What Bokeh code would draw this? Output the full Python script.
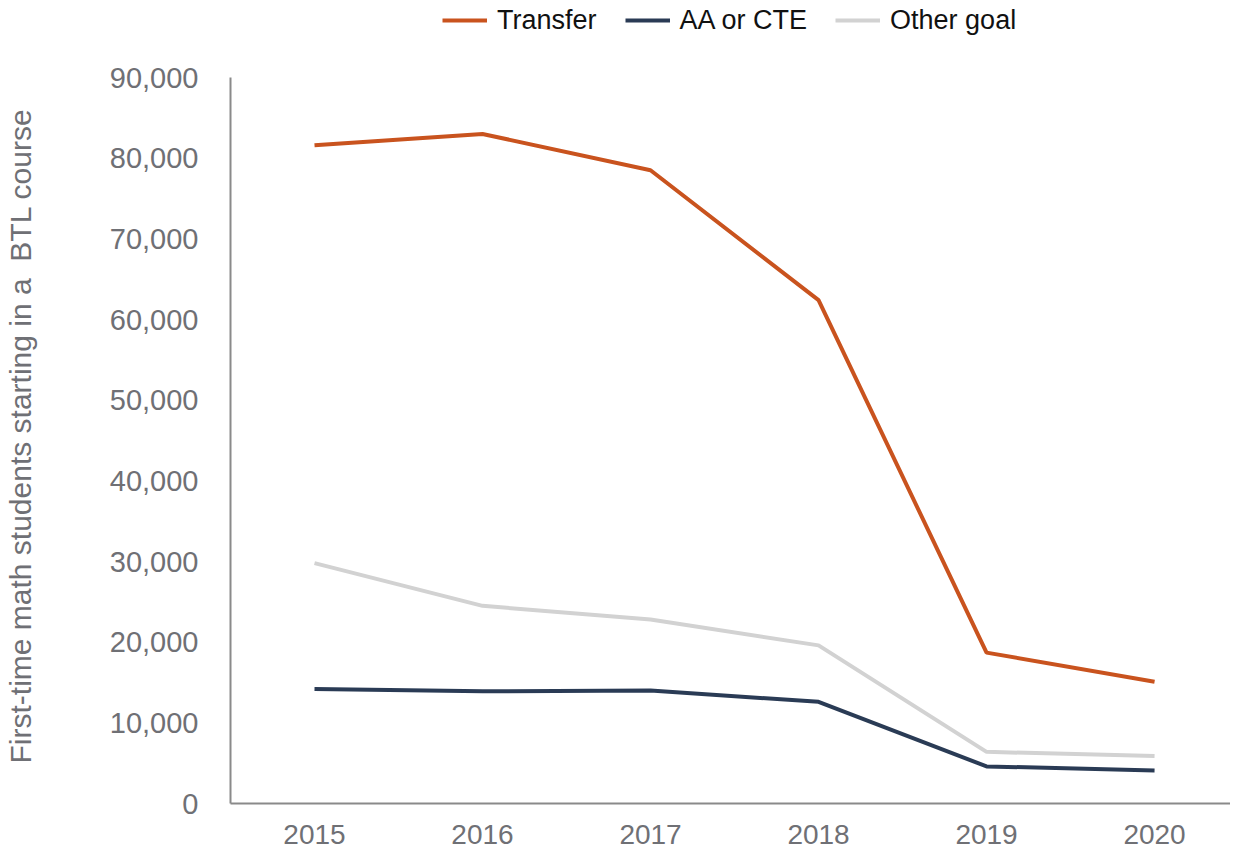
from bokeh.plotting import figure
from bokeh.models import Legend, LegendItem, Range1d, FixedTicker, NumeralTickFormatter, Title
from bokeh.embed import file_html
from bokeh.resources import INLINE

years = [2015, 2016, 2017, 2018, 2019, 2020]
transfer = [81600, 83000, 78500, 62400, 18700, 15100]
aa_cte = [14200, 13900, 14000, 12600, 4600, 4100]
other_goal = [29800, 24500, 22800, 19600, 6400, 5900]
y_ticks = [0, 10000, 20000, 30000, 40000, 50000, 60000, 70000, 80000, 90000]
y_max = 90000
y_title = "First-time math students starting in a \u00a0BTL course"

FONT = "Liberation Sans"
GRAY_TXT = "#6f7075"
AXIS_COL = "#8a8a8a"

H = 849
TOP = 4
BOTTOM = 46
frame_h = H - TOP - BOTTOM          # frame height in px
axis_px = 726                        # px between 0 and 90,000
y_end = y_max * frame_h / axis_px    # extra head-room above the axis for the legend

p = figure(width=1230, height=H, output_backend="svg", toolbar_location=None,
           x_range=Range1d(2014.5, 2020.452), y_range=Range1d(0, y_end),
           min_border_left=230, min_border_top=TOP, min_border_bottom=BOTTOM, min_border_right=0)
p.outline_line_color = None
p.xgrid.visible = False
p.ygrid.visible = False
p.background_fill_color = "white"
p.border_fill_color = "white"

r1 = p.line(years, transfer, line_color="#C9531E", line_width=4)
r2 = p.line(years, aa_cte, line_color="#2A3B55", line_width=4)
r3 = p.line(years, other_goal, line_color="#D2D2D2", line_width=4)

# axes
p.xaxis.ticker = FixedTicker(ticks=years)
p.xaxis.axis_line_color = AXIS_COL
p.xaxis.axis_line_width = 2
p.xaxis.major_tick_line_color = None
p.xaxis.minor_tick_line_color = None
p.xaxis.major_label_text_font = FONT
p.xaxis.major_label_text_font_size = "28px"
p.xaxis.major_label_text_color = GRAY_TXT
p.xaxis.major_label_standoff = 15

p.yaxis.ticker = FixedTicker(ticks=y_ticks)
p.yaxis.bounds = (0, y_max)
p.yaxis.formatter = NumeralTickFormatter(format="0,0")
p.yaxis.axis_line_color = AXIS_COL
p.yaxis.axis_line_width = 2
p.yaxis.major_tick_line_color = None
p.yaxis.minor_tick_line_color = None
p.yaxis.major_label_text_font = FONT
p.yaxis.major_label_text_font_size = "29px"
p.yaxis.major_label_text_color = GRAY_TXT
p.yaxis.major_label_standoff = 26
# blank axis label only reserves room so the title sits at the far left
p.yaxis.axis_label = "\u00a0"
p.yaxis.axis_label_text_font_size = "29px"
p.yaxis.axis_label_standoff = 31

# y-axis title, aligned to start near the bottom of the axis
ytitle = Title(text=y_title, align="left", vertical_align="top", offset=40, standoff=4,
               text_font=FONT, text_font_size="30px", text_font_style="normal",
               text_color=GRAY_TXT)
p.add_layout(ytitle, "left")

legend = Legend(items=[
    LegendItem(label="Transfer", renderers=[r1]),
    LegendItem(label="AA or CTE", renderers=[r2]),
    LegendItem(label="Other goal", renderers=[r3]),
], orientation="horizontal", location=(212, frame_h - 32))
legend.label_text_font = FONT
legend.label_text_font_size = "27px"
legend.label_text_color = "#111111"
legend.label_height = 32
legend.glyph_width = 45
legend.glyph_height = 32
legend.label_standoff = 10
legend.spacing = 28
legend.padding = 0
legend.margin = 0
legend.border_line_color = None
legend.background_fill_alpha = 0
p.add_layout(legend, "center")

open("out.html", "w").write(file_html(p, INLINE))
